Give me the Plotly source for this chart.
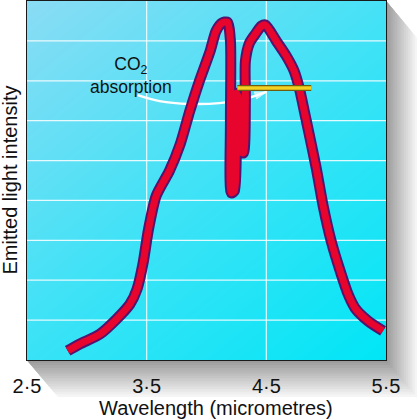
import plotly.graph_objects as go

# emission curve
wavelength = [2.84, 2.94, 3.11, 3.25, 3.36, 3.42, 3.47, 3.515, 3.58, 3.69, 3.78,
              3.86, 3.94, 4.03, 4.08, 4.13, 4.175, 4.20, 4.20, 4.208, 4.233, 4.25,
              4.25, 4.275, 4.283, 4.308, 4.325, 4.325, 4.358, 4.408, 4.458, 4.492,
              4.583, 4.667, 4.733, 4.775, 4.817, 4.858, 4.917, 4.975, 5.042, 5.117,
              5.183, 5.242, 5.35, 5.475]
intensity = [0.23, 0.40, 0.65, 1.03, 1.40, 1.78, 2.43, 3.27, 4.12, 4.74, 5.41,
             6.24, 6.99, 7.74, 8.25, 8.45, 8.47, 8.0, 5.99, 4.19, 4.24, 5.99,
             6.69, 6.49, 5.24, 5.19, 6.49, 7.49, 7.94, 8.17, 8.37, 8.40,
             8.0, 7.62, 7.24, 6.82, 6.24, 5.66, 4.81, 3.86, 2.98, 2.23,
             1.65, 1.30, 0.98, 0.73]

# yellow band and arrow path
band_x = [4.258, 4.875]
band_y = [6.82, 6.82]
arrow_x = [3.425, 3.608, 3.858, 4.108, 4.317, 4.50]
arrow_y = [6.64, 6.49, 6.42, 6.44, 6.54, 6.72]

tick_vals = [2.5, 3.5, 4.5, 5.5]
tick_text = ["2·5", "3·5", "4·5", "5·5"]
grid_y = [1, 2, 3, 4, 5, 6, 7, 8]
grid_x = [3.5, 4.5]

FONT = "Liberation Sans, Arial, sans-serif"

fig = go.Figure()

# cyan gradient background
fig.add_trace(go.Heatmap(
    x=[2.5, 5.5], y=[0, 9], z=[[0.45, 0.0], [1.0, 0.55]],
    colorscale=[[0, "#00e6f6"], [0.5, "#3fe2f6"], [1, "#8adcf4"]],
    zsmooth="best", showscale=False, hoverinfo="skip"))

# white grid, drawn over the gradient
for g in grid_y:
    fig.add_trace(go.Scatter(x=[2.5, 5.5], y=[g, g], mode="lines",
                             line=dict(color="rgba(255,255,255,0.85)", width=1.2),
                             hoverinfo="skip"))
for g in grid_x:
    fig.add_trace(go.Scatter(x=[g, g], y=[0, 9], mode="lines",
                             line=dict(color="rgba(255,255,255,0.85)", width=1.2),
                             hoverinfo="skip"))

# curved white arrow
fig.add_trace(go.Scatter(x=arrow_x, y=arrow_y, mode="lines+markers", line_shape="spline",
                         line=dict(color="white", width=2.5),
                         marker=dict(symbol="arrow", angleref="previous", color="white",
                                     size=[0] * (len(arrow_x) - 1) + [12]),
                         hoverinfo="skip"))

# emission line: dark outline then red core
fig.add_trace(go.Scatter(x=wavelength, y=intensity, mode="lines",
                         line=dict(color="#55136e", width=11, shape="spline", smoothing=0.7),
                         hoverinfo="skip"))
fig.add_trace(go.Scatter(x=wavelength, y=intensity, mode="lines",
                         line=dict(color="#e8052d", width=7, shape="spline", smoothing=0.7),
                         hoverinfo="skip"))

# yellow bar
fig.add_trace(go.Scatter(x=band_x, y=band_y, mode="lines",
                         line=dict(color="#6e5c10", width=6), hoverinfo="skip"))
fig.add_trace(go.Scatter(x=band_x, y=band_y, mode="lines",
                         line=dict(color="#f4d020", width=3.5), hoverinfo="skip"))

fig.add_annotation(x=3.367, y=7.14, text="CO<sub>2</sub><br>absorption", showarrow=False,
                   font=dict(family=FONT, size=17.5, color="#111111"))

# axis titles
fig.add_annotation(x=(216 - 27) / 359, y=0, xref="paper", yref="paper", yshift=-48,
                   yanchor="middle", xanchor="center",
                   text="Wavelength (micrometres)", showarrow=False,
                   font=dict(family=FONT, size=20, color="#111111"))
fig.add_annotation(x=0, y=0.5, xref="paper", yref="paper", xshift=-18,
                   xanchor="center", yanchor="middle",
                   text="Emitted light intensity", textangle=-90, showarrow=False,
                   font=dict(family=FONT, size=20, color="#111111"))

# grey 3-D shadow right and below the panel
W = H = 359.0
dx, dy = 31.0, 37.0
steps = 14
for k in range(steps, 0, -1):
    t = k / steps
    ox, oy = dx * t / W, dy * t / H
    shade = int(150 + 95 * t)
    col = f"rgb({shade},{shade},{shade})"
    path = (f"M 1 1 L {1 + ox} {1 - oy} L {1 + ox} {-oy} "
            f"L {ox} {-oy} L 0 0 L 1 0 Z")
    fig.add_shape(type="path", path=path, xref="paper", yref="paper",
                  fillcolor=col, line_width=0, layer="below")

fig.update_layout(
    width=418, height=420,
    margin=dict(l=27, r=32, t=1, b=60),
    paper_bgcolor="white", plot_bgcolor="#40e4f6",
    showlegend=False,
    font=dict(family=FONT, size=20, color="#111111"),
    xaxis=dict(range=[2.5, 5.5], tickvals=tick_vals, ticktext=tick_text,
               showgrid=False, zeroline=False, showline=True, mirror=True,
               linecolor="#1a1a1a", linewidth=1.2, ticks="", ticklabelstandoff=8,
               tickfont=dict(size=20)),
    yaxis=dict(range=[0, 9], showticklabels=False, showgrid=False, zeroline=False,
               showline=True, mirror=True, linecolor="#1a1a1a", linewidth=1.2, ticks=""),
)

fig.write_html("out.html", config={"displayModeBar": False},
               post_script="document.body.style.margin='0px';")
